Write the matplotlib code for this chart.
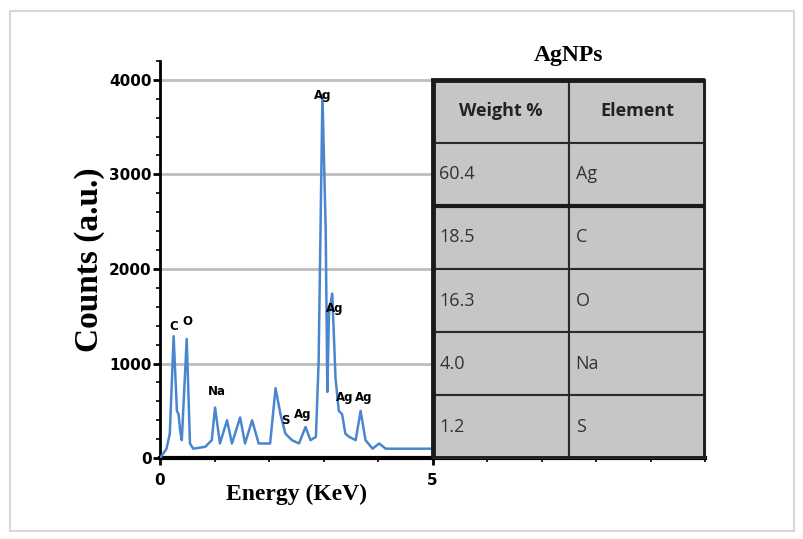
import matplotlib.pyplot as plt
from matplotlib.patches import Rectangle
from matplotlib.ticker import MultipleLocator, FixedLocator

# EDS spectrum (keV, counts)
energy = [0.0, 0.12, 0.18, 0.25, 0.31, 0.34, 0.37, 0.40, 0.49, 0.55, 0.61, 0.83,
          0.95, 1.01, 1.10, 1.23, 1.32, 1.47, 1.56, 1.69, 1.81, 2.02, 2.12, 2.21,
          2.30, 2.42, 2.55, 2.67, 2.76, 2.86, 2.91, 2.98, 3.04, 3.07, 3.10, 3.16,
          3.22, 3.28, 3.34, 3.40, 3.47, 3.59, 3.68, 3.77, 3.90, 4.02, 4.14, 5.0]
counts = [0, 100, 260, 1290, 500, 465, 290, 190, 1260, 155, 100, 120,
          190, 535, 155, 400, 155, 430, 155, 400, 155, 155, 740, 465,
          260, 190, 155, 330, 190, 225, 1020, 3845, 2400, 700, 1530, 1740,
          845, 500, 465, 260, 225, 190, 500, 190, 100, 155, 100, 100]

peak_labels = ["C", "O", "Na", "S", "Ag", "Ag", "Ag", "Ag", "Ag"]
peak_x = [0.26, 0.50, 1.05, 2.30, 2.61, 2.98, 3.20, 3.38, 3.73]
peak_y = [1390, 1440, 700, 400, 465, 3830, 1580, 640, 640]

col_labels = ["Weight %", "Element"]
weight_pct = ["60.4", "18.5", "16.3", "4.0", "1.2"]
elements = ["Ag", "C", "O", "Na", "S"]

narrow = ["Liberation Sans Narrow", "DejaVu Sans"]

fig = plt.figure(figsize=(8.04, 5.39), dpi=100)
fig.patches.append(Rectangle((0.012, 0.015), 0.976, 0.965, transform=fig.transFigure,
                             fill=False, edgecolor="#d8d8d8", lw=1.5))
ax = fig.add_axes([0.199, 0.150, 0.678, 0.737])

ax.hlines([1000, 2000, 3000, 4000], 0, 5, colors="#bdbdbd", lw=2, zorder=1)
ax.plot(energy, counts, color="#4a86d0", lw=1.8, zorder=3)

for lab, x, y in zip(peak_labels, peak_x, peak_y):
    ax.text(x, y, lab, ha="center", va="center", fontsize=8.5, fontweight="bold",
            family=narrow, zorder=4)

ax.set_xlim(0, 10)
ax.set_ylim(0, 4200)
ax.xaxis.set_major_locator(FixedLocator([0, 5]))
ax.xaxis.set_minor_locator(MultipleLocator(1))
ax.yaxis.set_major_locator(MultipleLocator(1000))
ax.yaxis.set_minor_locator(MultipleLocator(200))
ax.tick_params(axis="both", which="major", direction="out", length=5, width=2,
               labelsize=11)
ax.tick_params(axis="both", which="minor", direction="out", length=3, width=1.2)
ax.tick_params(axis="x", which="major", pad=6)
ax.tick_params(axis="y", which="major", pad=1)
for lbl in ax.get_xticklabels() + ax.get_yticklabels():
    lbl.set_fontweight("bold")
    lbl.set_family(narrow)

for side in ["top", "right"]:
    ax.spines[side].set_visible(False)
ax.spines["left"].set_linewidth(2)
ax.spines["bottom"].set_linewidth(3)

ax.set_ylabel("Counts (a.u.)", family="Liberation Serif", fontweight="bold",
              fontsize=24)
ax.yaxis.set_label_coords(-0.10, 0.5)
ax.set_xlabel("Energy (KeV)", family="Liberation Serif", fontweight="bold",
              fontsize=17)
ax.xaxis.set_label_coords(0.25, -0.065)

rows = [[w, e] for w, e in zip(weight_pct, elements)]
tbl = ax.table(cellText=rows, colLabels=col_labels, cellLoc="left",
               bbox=[0.5, 0.0, 0.5, 4000 / 4200], zorder=5)
tbl.auto_set_font_size(False)
for (r, c), cell in tbl.get_celld().items():
    cell.set_facecolor("#c6c6c6")
    cell.set_edgecolor("#2a2a2a")
    cell.set_linewidth(1.5)
    cell.PAD = 0.05
    txt = cell.get_text()
    txt.set_family(["Open Sans", "DejaVu Sans"])
    txt.set_fontsize(13)
    txt.set_color("#333333")
    if r == 0:
        txt.set_ha("center")
        cell._loc = "center"
        txt.set_fontweight("bold")
        txt.set_color("#222222")

# outer frame and thick separator under the first data row
ax.add_patch(Rectangle((5, 0), 5, 4000, fill=False, edgecolor="#1a1a1a", lw=3.5,
                       zorder=6))
ax.hlines(4000 * 4 / 6, 5, 10, colors="#1a1a1a", lw=3, zorder=6)

ax.text(7.5, 4150, "AgNPs", ha="center", va="bottom", family="Liberation Serif",
        fontweight="bold", fontsize=17)

fig.savefig("out.png", dpi=100)
